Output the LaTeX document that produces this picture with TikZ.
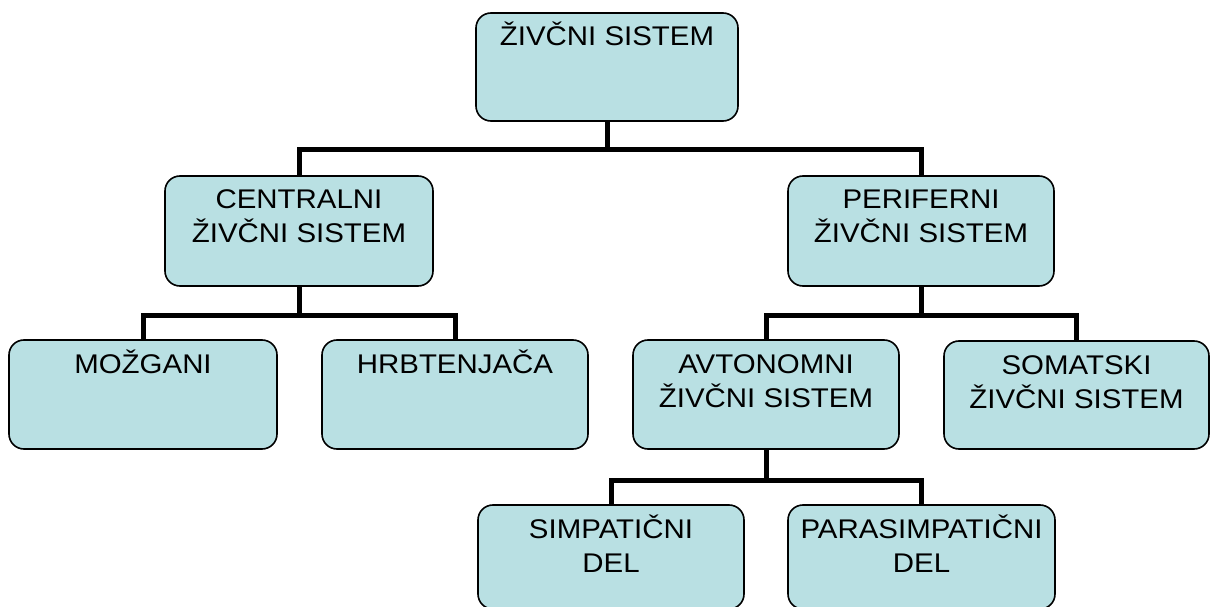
\documentclass[tikz,border=0pt]{standalone}
\usepackage{fontspec}
\setmainfont{Liberation Sans}[FakeStretch=1.09]
\definecolor{boxblue}{RGB}{185,224,227}
\newcommand{\btext}[3]{\parbox[c][#2][t]{#1}{\centering\fontsize{27bp}{34bp}\selectfont\rule{0pt}{33bp}#3}}
\tikzset{
  box/.style={draw=black, line width=1.6bp, fill=boxblue, rounded corners=15bp, inner sep=0pt, outer sep=0pt},
  conn/.style={draw=black, line width=5bp, line join=miter}
}
\begin{document}
\begin{tikzpicture}[x=1bp, y=-1bp]
\useasboundingbox (0,0) rectangle (1211,607);
\clip (0,0) rectangle (1211,607);
\node[box, minimum width=262bp, minimum height=108bp] (root) at (607,67) {\btext{262bp}{108bp}{ŽIVČNI SISTEM}};
\node[box, minimum width=268bp, minimum height=110bp] (cent) at (299,231) {\btext{268bp}{110bp}{CENTRALNI\\ŽIVČNI SISTEM}};
\node[box, minimum width=266bp, minimum height=110bp] (peri) at (921,231) {\btext{266bp}{110bp}{PERIFERNI\\ŽIVČNI SISTEM}};
\node[box, minimum width=268bp, minimum height=109bp] (mozg) at (143,394.5) {\btext{268bp}{109bp}{MOŽGANI}};
\node[box, minimum width=266bp, minimum height=109bp] (hrbt) at (455,394.5) {\btext{266bp}{109bp}{HRBTENJAČA}};
\node[box, minimum width=266bp, minimum height=109bp] (avto) at (766,394.5) {\btext{266bp}{109bp}{AVTONOMNI\\ŽIVČNI SISTEM}};
\node[box, minimum width=265bp, minimum height=108bp] (soma) at (1076.5,395) {\btext{265bp}{108bp}{SOMATSKI\\ŽIVČNI SISTEM}};
\node[box, minimum width=266bp, minimum height=104bp] (simp) at (611,557) {\btext{266bp}{104bp}{SIMPATIČNI\\DEL}};
\node[box, minimum width=267bp, minimum height=104bp] (para) at (921.5,557) {\btext{267bp}{104bp}{PARASIMPATIČNI\\DEL}};
\draw[conn] (root.south) -- ++(0,29) -| (cent.north);
\draw[conn] (root.south) -- ++(0,29) -| (peri.north);
\draw[conn] (cent.south) -- ++(0,29) -| (mozg.north);
\draw[conn] (cent.south) -- ++(0,29) -| (hrbt.north);
\draw[conn] (peri.south) -- ++(0,29) -| (avto.north);
\draw[conn] (peri.south) -- ++(0,29) -| (soma.north);
\draw[conn] (avto.south) -- ++(0,31) -| (simp.north);
\draw[conn] (avto.south) -- ++(0,31) -| (para.north);
\end{tikzpicture}
\end{document}
